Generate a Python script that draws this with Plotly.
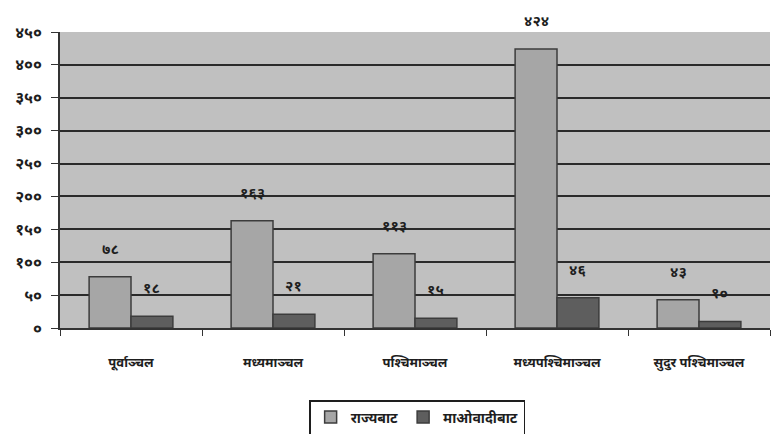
import plotly.graph_objects as go

# Regions of Nepal and incident counts by source
regions = ["पूर्वाञ्चल", "मध्यमाञ्चल", "पश्चिमाञ्चल", "मध्यपश्चिमाञ्चल", "सुदुर पश्चिमाञ्चल"]
from_state = [78, 163, 113, 424, 43]
from_maoists = [18, 21, 15, 46, 10]
series_names = ["राज्यबाट", "माओवादीबाट"]
y_ticks = [0, 50, 100, 150, 200, 250, 300, 350, 400, 450]

DEV_DIGITS = str.maketrans("0123456789", "०१२३४५६७८९")


def dev(n):
    return str(n).translate(DEV_DIGITS)


FONT = "Noto Sans, DejaVu Sans, sans-serif"
BARGAP = 0.41

fig = go.Figure()
fig.add_trace(go.Bar(
    name=series_names[0], x=regions, y=from_state,
    marker=dict(color="#a6a6a6", line=dict(color="#3c3c3c", width=1.5)),
))
fig.add_trace(go.Bar(
    name=series_names[1], x=regions, y=from_maoists,
    marker=dict(color="#5e5e5e", line=dict(color="#3c3c3c", width=1.5)),
))

# value labels floating above each bar
half = (1 - BARGAP) / 4
for i in range(len(regions)):
    for vals, off in ((from_state, -half), (from_maoists, half)):
        fig.add_annotation(
            x=i + off, y=vals[i], xref="x", yref="y",
            text=dev(vals[i]), showarrow=False, yshift=29,
            font=dict(family=FONT, size=15, color="#1e1e1e", weight="bold"),
        )

fig.update_layout(
    width=772, height=434,
    margin=dict(l=60, r=2, t=32, b=106, autoexpand=False),
    paper_bgcolor="white",
    plot_bgcolor="#c0c0c0",
    barmode="group", bargap=BARGAP, bargroupgap=0,
    font=dict(family=FONT, size=13, color="#1e1e1e"),
    showlegend=True,
    legend=dict(
        orientation="h", x=0.503, xanchor="center",
        yref="container", y=1 - 400 / 434, yanchor="top",
        bgcolor="white", bordercolor="#1e1e1e", borderwidth=1.5,
        font=dict(size=14, weight="bold"), itemwidth=30,
    ),
    xaxis=dict(
        type="category", tickson="boundaries", ticks="outside", ticklen=6,
        tickcolor="#333", showline=True, linecolor="#333", linewidth=1.5,
        showgrid=False, ticklabelstandoff=22,
        tickfont=dict(size=13, weight="bold"),
    ),
    yaxis=dict(
        range=[0, 450], tickvals=y_ticks, ticktext=[dev(v) for v in y_ticks],
        ticks="outside", ticklen=7, tickcolor="#333", ticklabelstandoff=6,
        showline=True, linecolor="#333", linewidth=1.5,
        showgrid=True, gridcolor="#2a2a2a", gridwidth=1.5,
        zeroline=False, tickfont=dict(size=16, weight="bold"),
    ),
)

fig.write_html("out.html")
